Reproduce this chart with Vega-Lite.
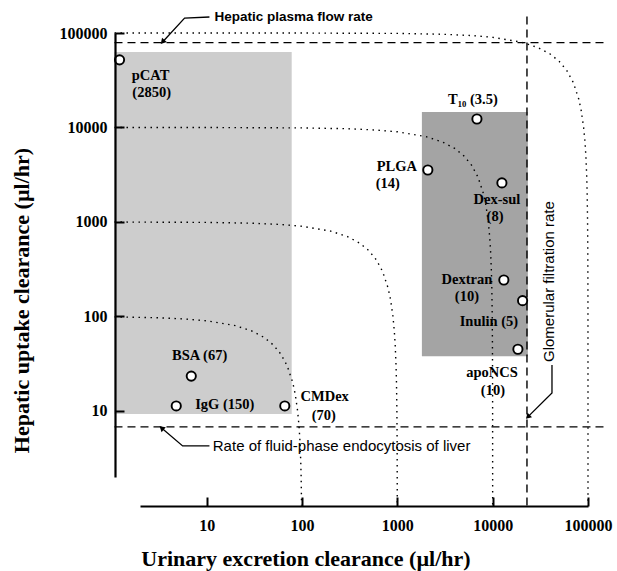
{
  "$schema": "https://vega.github.io/schema/vega-lite/v6.json",
  "autosize": "none",
  "padding": {"left": 140, "top": 33, "right": 29, "bottom": 94},
  "width": 448,
  "height": 444,
  "background": "white",
  "config": {"view": {"stroke": null}},
  "datasets": {
    "boxes": [
      {"x": 1.08, "x2": 78, "y": 63000, "y2": 9.3, "shade": "light"},
      {"x": 1810, "x2": 23400, "y": 14600, "y2": 38, "shade": "dark"}
    ],
    "curves": [
      {"c": "100", "x": 1.08, "y": 98.92}, {"c": "100", "x": 3, "y": 97}, {"c": "100", "x": 6, "y": 94}, {"c": "100", "x": 10, "y": 90}, {"c": "100", "x": 20, "y": 80}, {"c": "100", "x": 30, "y": 70}, {"c": "100", "x": 40, "y": 60}, {"c": "100", "x": 50, "y": 50}, {"c": "100", "x": 60, "y": 40}, {"c": "100", "x": 70, "y": 30}, {"c": "100", "x": 80, "y": 20}, {"c": "100", "x": 85, "y": 15}, {"c": "100", "x": 90, "y": 10}, {"c": "100", "x": 93, "y": 7}, {"c": "100", "x": 95, "y": 5}, {"c": "100", "x": 97, "y": 3}, {"c": "100", "x": 98, "y": 2}, {"c": "100", "x": 99, "y": 1},
      {"c": "1000", "x": 1.08, "y": 998.9}, {"c": "1000", "x": 10, "y": 990}, {"c": "1000", "x": 30, "y": 970}, {"c": "1000", "x": 60, "y": 940}, {"c": "1000", "x": 100, "y": 900}, {"c": "1000", "x": 200, "y": 800}, {"c": "1000", "x": 300, "y": 700}, {"c": "1000", "x": 400, "y": 600}, {"c": "1000", "x": 500, "y": 500}, {"c": "1000", "x": 600, "y": 400}, {"c": "1000", "x": 700, "y": 300}, {"c": "1000", "x": 800, "y": 200}, {"c": "1000", "x": 850, "y": 150}, {"c": "1000", "x": 900, "y": 100}, {"c": "1000", "x": 930, "y": 70}, {"c": "1000", "x": 950, "y": 50}, {"c": "1000", "x": 970, "y": 30}, {"c": "1000", "x": 980, "y": 20}, {"c": "1000", "x": 990, "y": 10}, {"c": "1000", "x": 995, "y": 5}, {"c": "1000", "x": 999, "y": 1},
      {"c": "10000", "x": 1.08, "y": 9999}, {"c": "10000", "x": 10, "y": 9990}, {"c": "10000", "x": 100, "y": 9900}, {"c": "10000", "x": 300, "y": 9700}, {"c": "10000", "x": 600, "y": 9400}, {"c": "10000", "x": 1000, "y": 9000}, {"c": "10000", "x": 2000, "y": 8000}, {"c": "10000", "x": 3000, "y": 7000}, {"c": "10000", "x": 4000, "y": 6000}, {"c": "10000", "x": 5000, "y": 5000}, {"c": "10000", "x": 6000, "y": 4000}, {"c": "10000", "x": 7000, "y": 3000}, {"c": "10000", "x": 8000, "y": 2000}, {"c": "10000", "x": 8500, "y": 1500}, {"c": "10000", "x": 9000, "y": 1000}, {"c": "10000", "x": 9300, "y": 700}, {"c": "10000", "x": 9500, "y": 500}, {"c": "10000", "x": 9700, "y": 300}, {"c": "10000", "x": 9800, "y": 200}, {"c": "10000", "x": 9900, "y": 100}, {"c": "10000", "x": 9950, "y": 50}, {"c": "10000", "x": 9980, "y": 20}, {"c": "10000", "x": 9990, "y": 10}, {"c": "10000", "x": 9999, "y": 1},
      {"c": "100000", "x": 1.08, "y": 99999}, {"c": "100000", "x": 100, "y": 99900}, {"c": "100000", "x": 1000, "y": 99000}, {"c": "100000", "x": 3000, "y": 97000}, {"c": "100000", "x": 6000, "y": 94000}, {"c": "100000", "x": 10000, "y": 90000}, {"c": "100000", "x": 20000, "y": 80000}, {"c": "100000", "x": 30000, "y": 70000}, {"c": "100000", "x": 40000, "y": 60000}, {"c": "100000", "x": 50000, "y": 50000}, {"c": "100000", "x": 60000, "y": 40000}, {"c": "100000", "x": 70000, "y": 30000}, {"c": "100000", "x": 80000, "y": 20000}, {"c": "100000", "x": 85000, "y": 15000}, {"c": "100000", "x": 90000, "y": 10000}, {"c": "100000", "x": 93000, "y": 7000}, {"c": "100000", "x": 95000, "y": 5000}, {"c": "100000", "x": 97000, "y": 3000}, {"c": "100000", "x": 98000, "y": 2000}, {"c": "100000", "x": 99000, "y": 1000}, {"c": "100000", "x": 99500, "y": 500}, {"c": "100000", "x": 99800, "y": 200}, {"c": "100000", "x": 99900, "y": 100}, {"c": "100000", "x": 99990, "y": 10}, {"c": "100000", "x": 99999, "y": 1}
    ],
    "limits": [
      {"name": "Hepatic plasma flow rate", "x": 1.08, "x2": 158000, "y": 79000, "y2": 79000},
      {"name": "Rate of fluid-phase endocytosis of liver", "x": 1.08, "x2": 158000, "y": 6.78, "y2": 6.78},
      {"name": "Glomerular filtration rate", "x": 22900, "x2": 22900, "y": 1, "y2": 163000}
    ],
    "leaders": [
      {"g": "a", "o": 1, "x": 10.7, "y": 147700}, {"g": "a", "o": 2, "x": 5.87, "y": 144000}, {"g": "a", "o": 3, "x": 3.45, "y": 80300},
      {"g": "b", "o": 1, "x": 10.7, "y": 4.27}, {"g": "b", "o": 2, "x": 5.6, "y": 4.27}, {"g": "b", "o": 3, "x": 3.37, "y": 6.61},
      {"g": "c", "o": 1, "x": 41900, "y": 30.7}, {"g": "c", "o": 2, "x": 41900, "y": 15.5}, {"g": "c", "o": 3, "x": 23400, "y": 8.65}
    ],
    "points": [
      {"name": "pCAT", "x": 1.22, "y": 52000},
      {"name": "T10", "x": 6840, "y": 12300},
      {"name": "PLGA", "x": 2090, "y": 3550},
      {"name": "Dex-sul", "x": 12500, "y": 2590},
      {"name": "Dextran", "x": 13100, "y": 243},
      {"name": "Inulin", "x": 20600, "y": 147},
      {"name": "apoNCS", "x": 18400, "y": 45},
      {"name": "BSA", "x": 6.9, "y": 23.4},
      {"name": "IgG", "x": 4.8, "y": 11.3},
      {"name": "CMDex", "x": 66, "y": 11.3}
    ],
    "labels": [
      {"text": "pCAT", "x": 2.58, "y": 35100},
      {"text": "(2850)", "x": 2.65, "y": 23200},
      {"text": "T₁₀ (3.5)", "x": 6210, "y": 19500},
      {"text": "PLGA", "x": 989, "y": 3820},
      {"text": "(14)", "x": 795, "y": 2520},
      {"text": "Dex-sul", "x": 11100, "y": 1710},
      {"text": "(8)", "x": 10600, "y": 1130},
      {"text": "Dextran", "x": 5370, "y": 243},
      {"text": "(10)", "x": 5370, "y": 161},
      {"text": "Inulin (5)", "x": 9140, "y": 87.5},
      {"text": "apoNCS", "x": 9820, "y": 25.2},
      {"text": "(10)", "x": 10070, "y": 16.3},
      {"text": "BSA (67)", "x": 8.45, "y": 38.2},
      {"text": "IgG (150)", "x": 15.5, "y": 11.6},
      {"text": "CMDex", "x": 173, "y": 14.1},
      {"text": "(70)", "x": 169, "y": 8.85}
    ],
    "notes": [
      {"text": "Hepatic plasma flow rate", "x": 12.1, "y": 147700, "kind": "top"},
      {"text": "Rate of fluid-phase endocytosis of liver", "x": 11.6, "y": 4.27, "kind": "bottom"},
      {"text": "Glomerular filtration rate", "x": 39000, "y": 234, "kind": "side"}
    ]
  },
  "encoding": {
    "x": {
      "field": "x", "type": "quantitative",
      "scale": {"type": "log", "domain": [2, 100000], "nice": false},
      "axis": {
        "values": [10, 100, 1000, 10000, 100000], "format": "d", "offset": 29, "zindex": 2,
        "grid": false, "ticks": true, "tickSize": -9, "tickWidth": 2, "tickColor": "black",
        "domainColor": "black", "domainWidth": 2.2,
        "labelPadding": 20, "labelFont": "Liberation Serif", "labelFontSize": 16, "labelFontWeight": "bold", "labelColor": "black",
        "labelFlush": false, "labelOverlap": false, "labelBound": false,
        "title": "Urinary excretion clearance (µl/hr)",
        "titleFont": "Liberation Serif", "titleFontSize": 22, "titleFontWeight": "bold", "titleColor": "black",
        "titleX": 165.5, "titleY": 52, "titleAlign": "center", "titleBaseline": "middle", "titleAngle": 0
      }
    },
    "y": {
      "field": "y", "type": "quantitative",
      "scale": {"type": "log", "domain": [2, 100000], "nice": false},
      "axis": {
        "values": [10, 100, 1000, 10000, 100000], "format": "d", "offset": 25, "zindex": 2,
        "grid": false, "ticks": true, "tickSize": -9, "tickWidth": 2, "tickColor": "black",
        "domainColor": "black", "domainWidth": 2.2,
        "labelPadding": 17, "labelFont": "Liberation Serif", "labelFontSize": 16, "labelFontWeight": "bold", "labelColor": "black",
        "labelFlush": false, "labelOverlap": false, "labelBound": false,
        "title": "Hepatic uptake clearance (µl/hr)",
        "titleFont": "Liberation Serif", "titleFontSize": 22, "titleFontWeight": "bold", "titleColor": "black",
        "titleX": -94, "titleY": 267, "titleAlign": "center", "titleBaseline": "middle", "titleAngle": 270
      }
    }
  },
  "layer": [
    {
      "data": {"name": "boxes"},
      "mark": {"type": "rect"},
      "encoding": {
        "x2": {"field": "x2"},
        "y2": {"field": "y2"},
        "color": {"field": "shade", "type": "nominal", "scale": {"domain": ["light", "dark"], "range": ["#cdcdcd", "#a4a4a4"]}, "legend": null}
      }
    },
    {
      "data": {"name": "curves"},
      "mark": {"type": "line", "color": "black", "strokeWidth": 1.4, "strokeDash": [1.5, 4.5]},
      "encoding": {
        "detail": {"field": "c", "type": "nominal"},
        "order": {"field": "x", "type": "quantitative"}
      }
    },
    {
      "data": {"name": "limits"},
      "mark": {"type": "rule", "color": "black", "strokeWidth": 1.4, "strokeDash": [8, 5]},
      "encoding": {
        "x2": {"field": "x2"},
        "y2": {"field": "y2"}
      }
    },
    {
      "data": {"name": "leaders"},
      "mark": {"type": "line", "color": "black", "strokeWidth": 1.3},
      "encoding": {
        "detail": {"field": "g", "type": "nominal"},
        "order": {"field": "o", "type": "quantitative"}
      }
    },
    {
      "data": {"name": "leaders"},
      "transform": [{"filter": "datum.g == 'a' && datum.o == 3"}],
      "mark": {"type": "point", "shape": "triangle-up", "filled": true, "color": "black", "size": 40, "angle": 222, "opacity": 1},
      "encoding": {}
    },
    {
      "data": {"name": "leaders"},
      "transform": [{"filter": "datum.g == 'b' && datum.o == 3"}],
      "mark": {"type": "point", "shape": "triangle-up", "filled": true, "color": "black", "size": 40, "angle": 311, "opacity": 1},
      "encoding": {}
    },
    {
      "data": {"name": "leaders"},
      "transform": [{"filter": "datum.g == 'c' && datum.o == 3"}],
      "mark": {"type": "point", "shape": "triangle-up", "filled": true, "color": "black", "size": 40, "angle": 225, "opacity": 1},
      "encoding": {}
    },
    {
      "data": {"name": "points"},
      "mark": {"type": "point", "shape": "circle", "filled": true, "fill": "white", "stroke": "black", "strokeWidth": 1.9, "size": 85, "opacity": 1}
    },
    {
      "data": {"name": "labels"},
      "mark": {"type": "text", "font": "Liberation Serif", "fontWeight": "bold", "fontSize": 14.5, "align": "center", "baseline": "middle", "color": "black"},
      "encoding": {"text": {"field": "text"}}
    },
    {
      "data": {"name": "notes"},
      "transform": [{"filter": "datum.kind == 'top'"}],
      "mark": {"type": "text", "font": "Liberation Sans", "fontWeight": "bold", "fontSize": 13.5, "align": "left", "baseline": "middle", "color": "black"},
      "encoding": {"text": {"field": "text"}}
    },
    {
      "data": {"name": "notes"},
      "transform": [{"filter": "datum.kind == 'bottom'"}],
      "mark": {"type": "text", "font": "Liberation Sans", "fontSize": 15, "align": "left", "baseline": "middle", "color": "black"},
      "encoding": {"text": {"field": "text"}}
    },
    {
      "data": {"name": "notes"},
      "transform": [{"filter": "datum.kind == 'side'"}],
      "mark": {"type": "text", "font": "Liberation Sans", "fontSize": 15, "align": "center", "baseline": "middle", "angle": 270, "color": "black"},
      "encoding": {"text": {"field": "text"}}
    }
  ]
}
